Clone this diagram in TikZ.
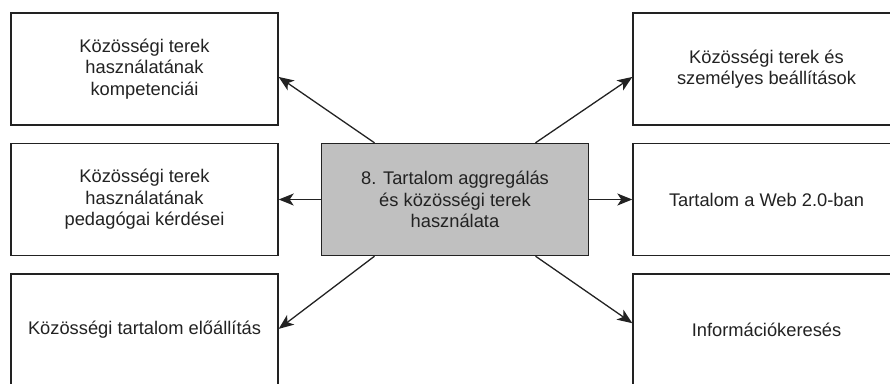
\documentclass[tikz,border=0pt]{standalone}
\usepackage{fontspec}
\setmainfont{Liberation Sans}
\usetikzlibrary{arrows.meta,calc}
\definecolor{ink}{HTML}{222222}
\definecolor{hubfill}{HTML}{C0C0C0}
\begin{document}
\begin{tikzpicture}[x=1pt,y=-1pt,
  box/.style={draw=ink, line width=1.4pt, fill=white,
    minimum width=267pt, minimum height=112pt, inner sep=0pt,
    align=center, text=ink, font=\fontsize{18.3}{21.5}\selectfont},
  hub/.style={box, fill=hubfill},
  link/.style={draw=ink, line width=1.3pt,
    -{Stealth[length=15pt,width=12pt,inset=4pt]}}]
  \useasboundingbox (0,0) rectangle (890,383);
  \clip (0,0) rectangle (890,383);

  % central topic
  \node[hub] (c) at (455,199.5) {8. Tartalom aggregálás\\és közösségi terek\\használata};

  % left column
  \node[box] (tl) at (144.5,69)  {Közösségi terek\\használatának\\kompetenciái};
  \node[box] (ml) at (144.5,199.5) {Közösségi terek\\használatának\\pedagógai kérdései};
  \node[box] (bl) at (144.5,330) {Közösségi tartalom előállítás};

  % right column
  \node[box] (tr) at (766.5,69)  {Közösségi terek és\\személyes beállítások};
  \node[box] (mr) at (766.5,199.5) {Tartalom a Web 2.0-ban};
  \node[box] (br) at (766.5,330) {Információkeresés};

  % connectors
  \draw[link] ($(c.north west)!0.2!(c.north east)$) -- ($(tl.north east)!0.57!(tl.south east)$);
  \draw[link] (c.west) -- (ml.east);
  \draw[link] ($(c.south west)!0.2!(c.south east)$) -- ($(bl.north east)!0.49!(bl.south east)$);
  \draw[link] ($(c.north east)!0.2!(c.north west)$) -- ($(tr.north west)!0.57!(tr.south west)$);
  \draw[link] (c.east) -- (mr.west);
  \draw[link] ($(c.south east)!0.2!(c.south west)$) -- ($(br.north west)!0.44!(br.south west)$);
\end{tikzpicture}
\end{document}
